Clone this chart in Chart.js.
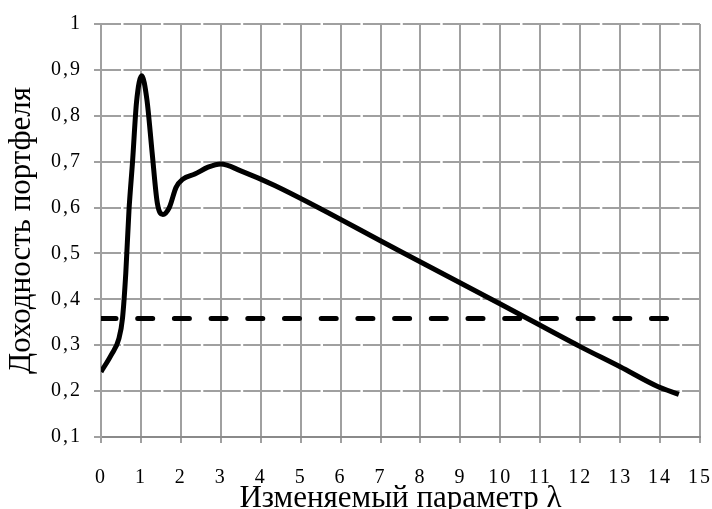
<!DOCTYPE html>
<html lang="ru">
<head>
<meta charset="utf-8">
<title>Доходность портфеля</title>
<script src="https://cdn.jsdelivr.net/npm/chart.js@4"></script>
<style>
  html, body { margin: 0; padding: 0; background: #fff; }
  canvas { display: block; }
</style>
</head>
<body>
<canvas id="lambdaChart" width="712" height="509"></canvas>
<script>
// Portfolio return as a function of the parameter lambda
const lambdaValues = [0, 0.25, 0.45, 0.54, 0.62, 0.70, 0.79, 0.89, 1.02, 1.15, 1.28, 1.41, 1.55, 1.71, 1.88, 2.05, 2.35, 2.68, 3.0, 3.5, 4.35, 7.42, 10.0, 12.0, 13.0, 13.94, 14.47];
const portfolioReturn = [0.242, 0.278, 0.315, 0.36, 0.456, 0.593, 0.70, 0.83, 0.887, 0.835, 0.72, 0.61, 0.585, 0.60, 0.644, 0.662, 0.673, 0.688, 0.695, 0.68, 0.648, 0.508, 0.39, 0.297, 0.253, 0.21, 0.193];

// flat reference level (dashed)
const levelLambda = [0, 14.5];
const levelReturn = [0.358, 0.358];

const xTickLabels = ['0', '1', '2', '3', '4', '5', '6', '7', '8', '9', '10', '11', '12', '13', '14', '15'];
const yTickLabels = ['0,1', '0,2', '0,3', '0,4', '0,5', '0,6', '0,7', '0,8', '0,9', '1'];

const gridGray = '#a0a0a0';
const axisGray = '#8a8a8a';

// tick labels are spread out a bit in the original; they are drawn after the datasets (z: 1)
const tickSpacing = {
    id: 'tickSpacing',
    beforeDraw(chart) { chart.ctx.letterSpacing = '0px'; },
    afterDatasetsDraw(chart) { chart.ctx.letterSpacing = '2px'; }
};

const ctx = document.getElementById('lambdaChart').getContext('2d');
new Chart(ctx, {
    type: 'scatter',
    data: {
        datasets: [
            {
                data: lambdaValues.map((x, i) => ({ x: x, y: portfolioReturn[i] })),
                showLine: true,
                borderColor: '#000',
                borderWidth: 5,
                cubicInterpolationMode: 'monotone',
                pointRadius: 0,
                order: 1
            },
            {
                data: levelLambda.map((x, i) => ({ x: x, y: levelReturn[i] })),
                showLine: true,
                borderColor: '#000',
                borderWidth: 5,
                borderDash: [15, 21.7],
                borderCapStyle: 'round',
                pointRadius: 0,
                order: 2
            }
        ]
    },
    options: {
        responsive: false,
        animation: false,
        layout: { padding: { top: 11, right: 3, bottom: 0, left: 0 } },
        plugins: { legend: { display: false }, tooltip: { enabled: false } },
        scales: {
            x: {
                type: 'linear',
                min: 0,
                max: 15,
                afterFit(scale) {
                    scale.height = 72;
                    scale.paddingLeft = 0;
                    scale.paddingRight = 12;
                },
                ticks: {
                    stepSize: 1,
                    padding: 23,
                    maxRotation: 0,
                    autoSkip: false,
                    color: '#000',
                    font: { family: 'Liberation Serif', size: 20 },
                    callback: (value, index) => xTickLabels[index],
                    z: 1
                },
                grid: { color: gridGray, lineWidth: 2, tickLength: 6, tickColor: gridGray },
                border: { color: axisGray, width: 2 },
                title: {
                    display: true,
                    text: 'Изменяемый параметр λ',
                    color: '#000',
                    font: { family: 'Liberation Serif', size: 31, lineHeight: 0.68 },
                    padding: 0
                }
            },
            y: {
                min: 0.1,
                max: 1,
                afterFit(scale) { scale.width = 101; },
                ticks: {
                    stepSize: 0.1,
                    padding: 12,
                    color: '#000',
                    font: { family: 'Liberation Serif', size: 20 },
                    callback: (value, index) => yTickLabels[index],
                    z: 1
                },
                grid: { color: gridGray, lineWidth: 2, tickLength: 7, tickColor: gridGray },
                border: { color: gridGray, width: 2, dash: [37.4, 2.5], dashOffset: 18.4 },
                title: {
                    display: true,
                    text: 'Доходность портфеля',
                    color: '#000',
                    font: { family: 'Liberation Serif', size: 31, lineHeight: 0.68 },
                    padding: { top: 11.5, bottom: 0 }
                }
            }
        }
    },
    plugins: [tickSpacing]
});
</script>
</body>
</html>
